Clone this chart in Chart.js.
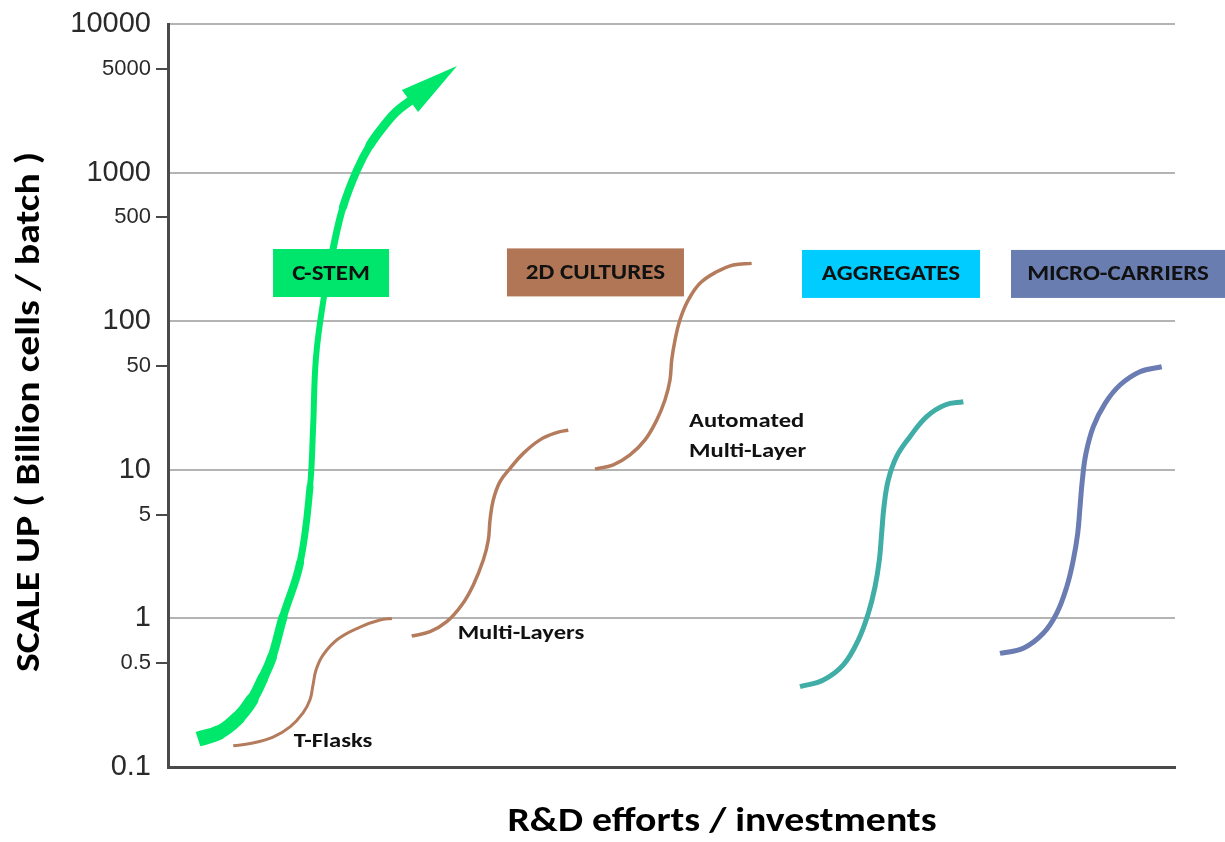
<!DOCTYPE html>
<html>
<head>
<meta charset="utf-8">
<title>Scale up vs R&amp;D efforts</title>
<script src="https://cdn.jsdelivr.net/npm/chart.js@4.4.1/dist/chart.umd.min.js"></script>
<style>
  html, body { margin: 0; padding: 0; background: #fff; }
  canvas { display: block; }
</style>
</head>
<body>
<canvas id="chart" width="1225" height="842"></canvas>
<script>
// y axis: billion cells / batch, log scale
const Y_TICKS = [0.1, 0.5, 1, 5, 10, 50, 100, 500, 1000, 5000, 10000];

// x axis is unit-less "R&D efforts / investments", 0..100
// C-STEM arrow
const cStemX = [2.98, 5.16, 6.95, 8.34, 9.43, 10.33, 11.42, 13.11, 14.10, 14.40, 14.70, 15.49, 16.39, 17.38, 18.77, 20.06, 21.35, 22.64, 24.03];
const cStemY = [0.154, 0.172, 0.214, 0.283, 0.397, 0.550, 1.02, 2.36, 7.66, 18.5, 57.4, 146, 306, 587, 1041, 1533, 2027, 2557, 3032];
const cStemTip = [28.70, 5217];

// 2D cultures
const tFlasksX = [6.48, 8.44, 10.43, 12.12, 13.41, 14.10, 14.40, 14.70, 15.39, 16.88, 19.07, 21.05, 22.24];
const tFlasksY = [0.139, 0.145, 0.159, 0.186, 0.231, 0.283, 0.356, 0.450, 0.567, 0.727, 0.875, 0.975, 1.0];

const multiLayersX = [24.20, 26.02, 27.68, 29.17, 30.32, 31.31, 31.81, 31.98, 32.30, 32.97, 33.96, 35.28, 36.94, 38.60, 39.75];
const multiLayersY = [0.761, 0.814, 0.950, 1.23, 1.68, 2.47, 3.37, 4.60, 6.26, 8.32, 10.2, 12.9, 15.9, 17.8, 18.5];

const autoMultiLayerX = [42.40, 44.22, 45.88, 47.37, 48.53, 49.35, 49.85, 50.02, 50.35, 50.84, 51.67, 52.83, 54.49, 56.14, 57.96];
const autoMultiLayerY = [10.1, 10.8, 12.6, 15.9, 21.6, 29.5, 40.2, 54.8, 74.7, 102, 139, 180, 215, 239, 245];

// aggregates
const aggregatesX = [62.76, 65.08, 67.06, 68.55, 69.54, 70.21, 70.64, 70.87, 71.10, 71.53, 72.36, 73.68, 75.34, 77.16, 78.98];
const aggregatesY = [0.347, 0.385, 0.486, 0.715, 1.08, 1.63, 2.47, 3.74, 5.65, 8.54, 12.3, 16.7, 22.8, 27.3, 28.7];

// micro-carriers
const microCarriersX = [82.62, 84.94, 86.92, 88.25, 89.25, 89.90, 90.34, 90.57, 90.80, 91.16, 91.89, 93.06, 94.54, 96.52, 98.68];
const microCarriersY = [0.582, 0.630, 0.794, 1.08, 1.63, 2.47, 3.74, 5.65, 8.54, 12.9, 19.5, 28.0, 37.2, 45.7, 49.4];

// category boxes and curve labels
const boxLabels = ['C-STEM', '2D CULTURES', 'AGGREGATES', 'MICRO-CARRIERS'];
const boxX = [16.19, 42.45, 71.80, 94.34];
const boxY = [211, 213, 208, 208];

const curveLabels = ['T-Flasks', 'Multi-Layers', 'Automated', 'Multi-Layer'];
const curveLabelX = [16.39, 35.05, 51.74, 51.74];
const curveLabelY = [0.147, 0.785, 21.1, 13.3];

const GREEN = '#00e86b';
const BROWN = '#b47c5c';
const TEAL = '#40aea6';
const SLATE = '#6a7cb2';

const boxStyle = [
  { fill: '#00e66c', w: 116 },
  { fill: '#b07656', w: 177 },
  { fill: '#00ccff', w: 178 },
  { fill: '#6a7db0', w: 214 },
];
const cStemWidths = [15, 14, 13, 11, 10, 9, 8, 7, 6, 6, 6, 6, 7, 8, 8, 9, 9, 9, 9];

const LABEL_FONT = 'Carlito, Calibri, Lato, sans-serif';

function pts(xs, ys) {
  return xs.map((x, i) => ({ x: x, y: ys[i] }));
}

function curve(label, xs, ys, color, width) {
  return {
    label: label,
    data: pts(xs, ys),
    borderColor: color,
    borderWidth: width,
    showLine: true,
    pointRadius: 0,
    tension: 0.4,
    borderCapStyle: 'butt',
    borderJoinStyle: 'round',
  };
}

const isMajor = v => Math.abs(Math.log10(v) - Math.round(Math.log10(v))) < 1e-6;

// Calibri-like text: Lato stretched horizontally
function wideText(ctx, text, x, y, sx) {
  ctx.save();
  ctx.translate(x, y);
  ctx.scale(sx, 1);
  ctx.fillText(text, 0, 0);
  ctx.restore();
}

const annotations = {
  id: 'annotations',
  afterDatasetsDraw(chart) {
    const ctx = chart.ctx;
    const xs = chart.scales.x, ys = chart.scales.y;
    ctx.save();

    // arrow head on the C-STEM curve
    const n = cStemX.length - 1;
    const bx = xs.getPixelForValue(cStemX[n]), by = ys.getPixelForValue(cStemY[n]);
    const tx = xs.getPixelForValue(cStemTip[0]), ty = ys.getPixelForValue(cStemTip[1]);
    const len = Math.hypot(tx - bx, ty - by);
    const px = -(ty - by) / len * 13.6, py = (tx - bx) / len * 13.6;
    ctx.fillStyle = GREEN;
    ctx.beginPath();
    ctx.moveTo(tx, ty);
    ctx.lineTo(bx + px, by + py);
    ctx.lineTo(bx - px, by - py);
    ctx.closePath();
    ctx.fill();

    // category boxes
    ctx.textAlign = 'center';
    ctx.textBaseline = 'middle';
    ctx.font = 'bold 22px ' + LABEL_FONT;
    boxLabels.forEach((t, i) => {
      const cx = xs.getPixelForValue(boxX[i]), cy = ys.getPixelForValue(boxY[i]);
      const w = boxStyle[i].w, h = 48;
      ctx.fillStyle = boxStyle[i].fill;
      ctx.fillRect(cx - w / 2, cy - h / 2, w, h);
      ctx.fillStyle = '#111';
      wideText(ctx, t, cx, cy + 1, 1.14);
    });

    // curve labels
    ctx.font = 'bold 21px ' + LABEL_FONT;
    curveLabels.forEach((t, i) => {
      const cx = xs.getPixelForValue(curveLabelX[i]), cy = ys.getPixelForValue(curveLabelY[i]);
      ctx.textAlign = i >= 2 ? 'left' : 'center';
      ctx.fillStyle = '#111';
      wideText(ctx, t, cx, cy, 1.17);
    });

    // axis titles
    ctx.fillStyle = '#000';
    ctx.textAlign = 'center';
    ctx.font = 'bold 34px ' + LABEL_FONT;
    wideText(ctx, 'R&D efforts / investments', 722, 822, 1.17);
    ctx.translate(30, 412);
    ctx.rotate(-Math.PI / 2);
    wideText(ctx, 'SCALE UP ( Billion cells / batch )', 0, 0, 1.17);
    ctx.restore();
  }
};

new Chart(document.getElementById('chart'), {
  type: 'scatter',
  data: {
    datasets: [
      curve('C-STEM', cStemX, cStemY, GREEN, 6),
      curve('T-Flasks', tFlasksX, tFlasksY, BROWN, 3),
      curve('Multi-Layers', multiLayersX, multiLayersY, BROWN, 3.5),
      curve('Automated Multi-Layer', autoMultiLayerX, autoMultiLayerY, BROWN, 3.5),
      curve('Aggregates', aggregatesX, aggregatesY, TEAL, 5),
      curve('Micro-carriers', microCarriersX, microCarriersY, SLATE, 5),
    ].map((d, i) => i === 0 ? Object.assign(d, {
      segment: {
        borderWidth: c => cStemWidths[c.p0DataIndex],
        borderCapStyle: c => c.p0DataIndex === 0 ? 'butt' : 'round'
      }
    }) : d)
  },
  options: {
    responsive: false,
    animation: false,
    layout: { padding: { top: 24, right: 50, left: 0, bottom: 0 } },
    plugins: { legend: { display: false }, tooltip: { enabled: false } },
    scales: {
      x: {
        type: 'linear',
        min: 0,
        max: 100,
        ticks: { display: false },
        grid: { display: false },
        border: { display: true, color: '#4a4a4a', width: 3 },
        afterFit: s => { s.height = 75; }
      },
      y: {
        type: 'logarithmic',
        min: 0.1,
        max: 10000,
        afterBuildTicks: s => { s.ticks = Y_TICKS.map(v => ({ value: v, major: isMajor(v) })); },
        afterFit: s => { s.width = 168; },
        ticks: {
          autoSkip: false,
          padding: 5,
          color: '#2a2a2a',
          font: c => ({ family: 'Liberation Sans, Arial, sans-serif', size: isMajor(c.tick.value) ? 29 : 22 }),
          callback: v => String(v)
        },
        grid: {
          color: c => isMajor(c.tick.value) ? '#b4b4b4' : 'rgba(0,0,0,0)',
          tickColor: c => isMajor(c.tick.value) ? 'rgba(0,0,0,0)' : '#4a4a4a',
          lineWidth: 2,
          tickWidth: 2,
          tickLength: 12
        },
        border: { display: true, color: '#4a4a4a', width: 3 }
      }
    }
  },
  plugins: [annotations]
});
</script>
</body>
</html>
